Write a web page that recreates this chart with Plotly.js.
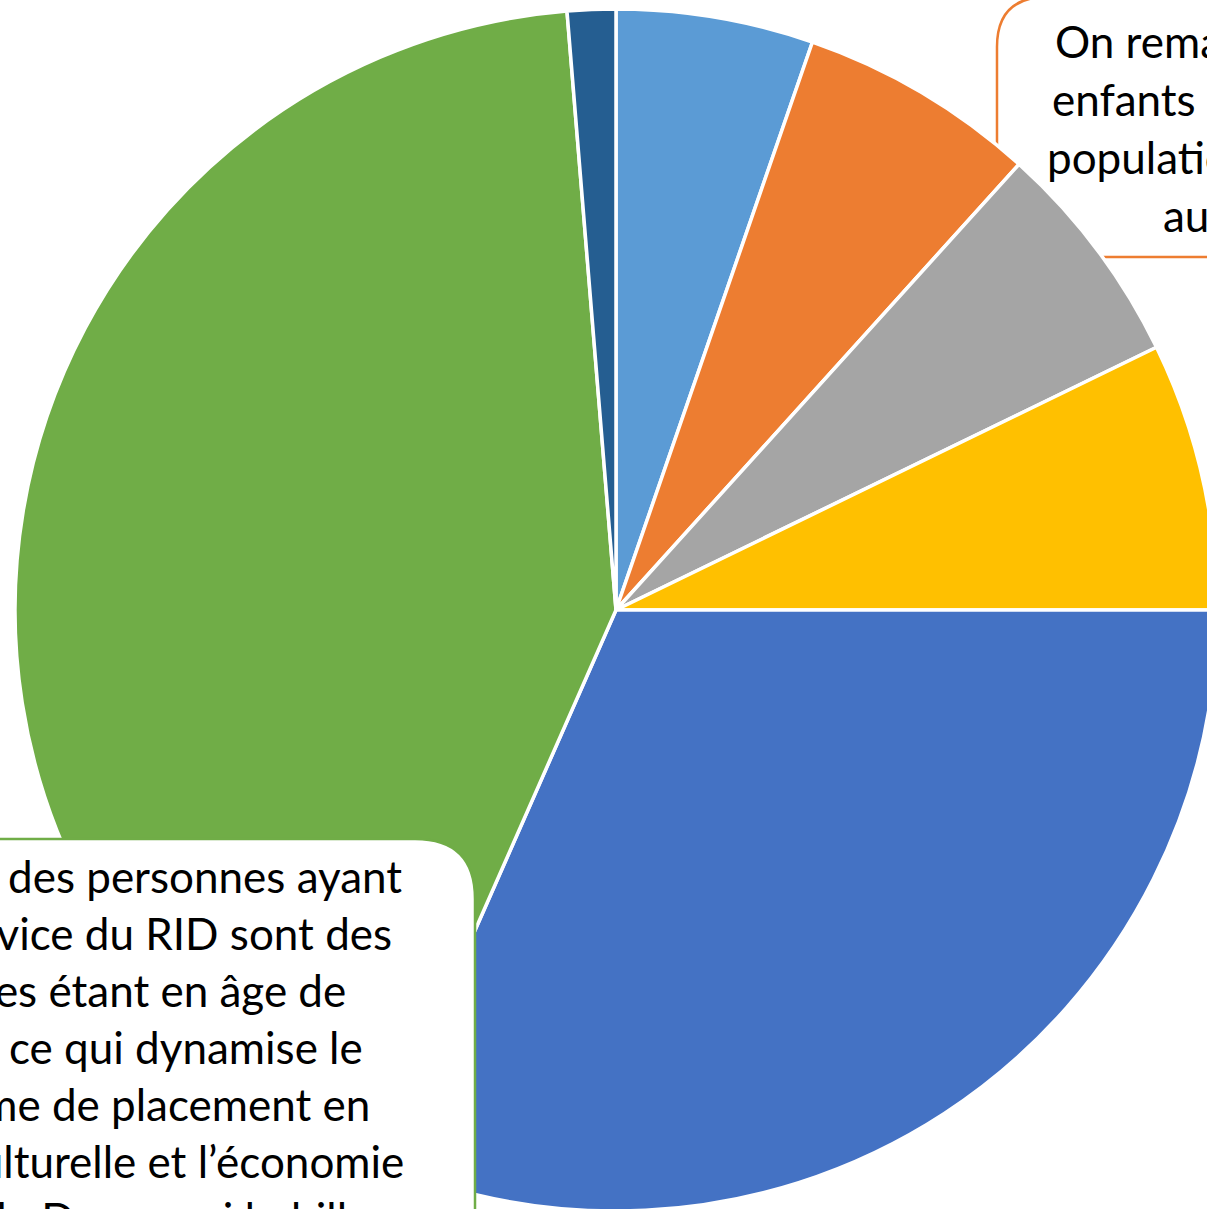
<!DOCTYPE html>
<html>
<head>
<meta charset="utf-8">
<script src="https://cdn.plot.ly/plotly-3.0.1.min.js"></script>
<style>
  html, body { margin: 0; padding: 0; overflow: hidden; background: #fff; }
</style>
</head>
<body>
<div id="plot-pie" style="width:1230px;height:1220px;"></div>
<script>
var plotDiv = document.getElementById('plot-pie');

// slices, clockwise from 12 o'clock
var labels = ['Tranche 1', 'Tranche 2', 'Tranche 3', 'Tranche 4', 'Tranche 5', 'Tranche 6', 'Tranche 7'];
var values = [5.3, 6.4, 6.1, 7.2, 31.6, 42.1, 1.3];
var colors = ['#5B9BD5', '#ED7D31', '#A5A5A5', '#FFC000', '#4472C4', '#70AD47', '#255E91'];

// callout texts (the picture cuts them at its edges)
var noteRight = ['On remarque que les', 'enfants constituent une', 'population importante', 'au sein du RID'];
var noteLeft = ['La majorité des personnes ayant', 'bénéficié du service du RID sont des',
  'personnes étant en âge de', 'travailler, ce qui dynamise le', 'programme de placement en',
  'entreprise agriculturelle et l’économie', 'locale de Dosso qui habille'];

// page geometry (pixels)
var W = 1230, H = 1220;
var M = {l: 15, t: 9, r: 13, b: 9};
var S = 1202;
function fx(px) { return (px - M.l) / S; }
function fy(py) { return 1 - (py - M.t) / S; }
function pt(x, y) { return fx(x).toFixed(5) + ',' + fy(y).toFixed(5); }

var rightStarts = [1053, 1050, 1045, 1161];
var leftEnds = [404, 394, 348, 365, 372, 406, 372];

var annotations = [];
noteRight.forEach(function (t, i) {
  annotations.push({
    xref: 'paper', yref: 'paper', x: fx(rightStarts[i]), y: fy(55 + i * 58 - 14),
    xanchor: 'left', yanchor: 'middle', showarrow: false, text: t,
    font: {family: 'Lato, sans-serif', size: 44, color: '#000'}
  });
});
noteLeft.forEach(function (t, i) {
  annotations.push({
    xref: 'paper', yref: 'paper', x: fx(leftEnds[i]), y: fy(890 + i * 57 - 14),
    xanchor: 'right', yanchor: 'middle', showarrow: false, text: t,
    font: {family: 'Lato, sans-serif', size: 44, color: '#000'}
  });
});

var shapes = [
  { // top right callout, behind the pie
    type: 'path', xref: 'paper', yref: 'paper', layer: 'below',
    path: 'M' + pt(997, 300) + ' L' + pt(997, 47) + ' Q' + pt(997, -3) + ' ' + pt(1047, -3) +
          ' L' + pt(1300, -3) + ' L' + pt(1300, 257) + ' L' + pt(1047, 257) + ' Q' + pt(997, 257) + ' ' + pt(997, 207) + ' Z',
    fillcolor: '#ffffff', line: {color: '#ED7D31', width: 2.5}
  },
  { // bottom left callout, over the pie
    type: 'path', xref: 'paper', yref: 'paper', layer: 'above',
    path: 'M' + pt(-60, 839) + ' L' + pt(415, 839) + ' Q' + pt(475, 839) + ' ' + pt(475, 899) +
          ' L' + pt(475, 1270) + ' L' + pt(-60, 1270) + ' Z',
    fillcolor: '#ffffff', line: {color: '#70AD47', width: 2.5}
  }
];

var data = [{
  type: 'pie',
  labels: labels,
  values: values,
  sort: false,
  direction: 'clockwise',
  rotation: 0,
  textinfo: 'none',
  hoverinfo: 'label+percent',
  marker: {colors: colors, line: {color: '#ffffff', width: 3.5}}
}];

var layout = {
  width: W,
  height: H,
  margin: M,
  paper_bgcolor: '#ffffff',
  plot_bgcolor: '#ffffff',
  showlegend: false,
  shapes: shapes,
  annotations: annotations
};

Plotly.newPlot(plotDiv, data, layout, {displayModeBar: false});
</script>
</body>
</html>
